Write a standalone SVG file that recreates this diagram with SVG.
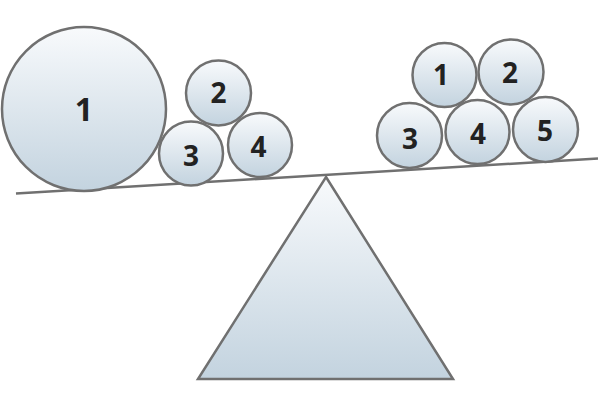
<svg xmlns="http://www.w3.org/2000/svg" width="600" height="400" viewBox="0 0 600 400">
<defs>
<linearGradient id="g" x1="0" y1="0" x2="0" y2="1">
<stop offset="0" stop-color="#f8fafc"/>
<stop offset="1" stop-color="#c3d3df"/>
</linearGradient>
<style>
.b{fill:url(#g);stroke:#707070;stroke-width:2.5}
.t{font-family:"Open Sans","Noto Sans",sans-serif;font-weight:bold;font-size:28px;fill:#222;text-anchor:middle}
.big{font-size:32px}
</style>
</defs>
<rect width="600" height="400" fill="#fff"/>
<g id="connectors">
<line x1="16" y1="193.5" x2="598" y2="158.5" stroke="#707070" stroke-width="2.5"/>
</g>
<g id="fulcrum"><polygon class="b" points="326,177 453,379 198,379" stroke-linejoin="miter"/></g>
<g id="L1"><circle class="b" cx="84" cy="109" r="82"/><text class="t big" x="84" y="121">1</text></g>
<g id="L2"><circle class="b" cx="218.5" cy="93" r="32.5"/><text class="t" x="218.5" y="103">2</text></g>
<g id="L3"><circle class="b" cx="191" cy="153.5" r="32"/><text class="t" x="191" y="166">3</text></g>
<g id="L4"><circle class="b" cx="260" cy="145" r="32"/><text class="t" x="258.5" y="157">4</text></g>
<g id="R1"><circle class="b" cx="444.5" cy="75" r="32"/><text class="t" x="441" y="85">1</text></g>
<g id="R2"><circle class="b" cx="511" cy="72" r="32.5"/><text class="t" x="510" y="83">2</text></g>
<g id="R3"><circle class="b" cx="409.5" cy="135.5" r="32.5"/><text class="t" x="410" y="149">3</text></g>
<g id="R4"><circle class="b" cx="477.5" cy="132" r="32"/><text class="t" x="478" y="144">4</text></g>
<g id="R5"><circle class="b" cx="545.5" cy="129.5" r="32.5"/><text class="t" x="545" y="141">5</text></g>
</svg>
